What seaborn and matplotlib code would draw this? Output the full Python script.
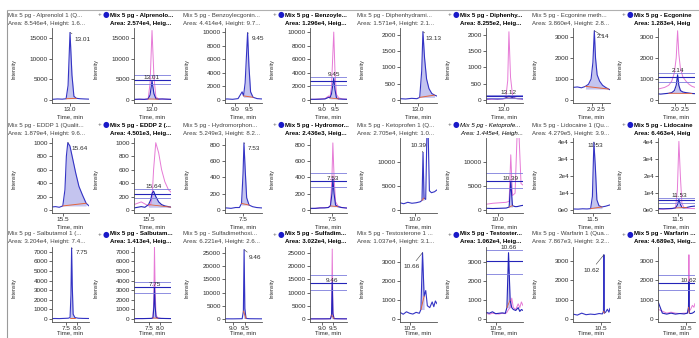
import matplotlib
matplotlib.use("Agg")
import matplotlib.pyplot as plt
from matplotlib.lines import Line2D
import seaborn as sns

sns.set_theme(style="ticks")
plt.rcParams['font.family'] = ['Liberation Sans', 'DejaVu Sans']

# ---- panel texts ----
qual_titles = ["Mix 5 pg - Alprenolol 1 (Q...", "Mix 5 pg - Benzoylecgonin...",
               "Mix 5 pg - Diphenhydrami...", "Mix 5 pg - Ecgonine meth...",
               "Mix 5 pg - EDDP 1 (Qualit...", "Mix 5 pg - Hydromorphon...",
               "Mix 5 pg - Ketoprofen 1 (Q...", "Mix 5 pg - Lidocaine 1 (Qu...",
               "Mix 5 pg - Salbutamol 1 (...", "Mix 5 pg - Sulfadimethoxi...",
               "Mix 5 pg - Testosterone 1 ...", "Mix 5 pg - Warfarin 1 (Qua..."]
qual_areas = ["Area: 8.546e4, Height: 1.6...", "Area: 4.414e4, Height: 9.7...",
              "Area: 1.571e4, Height: 2.1...", "Area: 3.860e4, Height: 2.8...",
              "Area: 1.879e4, Height: 9.6...", "Area: 5.249e3, Height: 8.2...",
              "Area: 2.705e4, Height: 1.0...", "Area: 4.279e5, Height: 3.9...",
              "Area: 3.204e4, Height: 7.4...", "Area: 6.221e4, Height: 2.6...",
              "Area: 1.037e4, Height: 3.1...", "Area: 7.867e3, Height: 3.2..."]
mix_titles = ["Mix 5 pg - Alprenolo...", "Mix 5 pg - Benzoyle...", "Mix 5 pg - Diphenhy...",
              "Mix 5 pg - Ecgonine", "Mix 5 pg - EDDP 2 (...", "Mix 5 pg - Hydromor...",
              "Mix 5 pg - Ketoprofe...", "Mix 5 pg - Lidocaine", "Mix 5 pg - Salbutam...",
              "Mix 5 pg - Sulfadim...", "Mix 5 pg - Testoster...", "Mix 5 pg - Warfarin ..."]
mix_areas = ["Area: 2.574e4, Heig...", "Area: 1.296e4, Heig...", "Area: 8.255e2, Heig...",
             "Area: 1.283e4, Heig", "Area: 4.501e3, Heig...", "Area: 2.436e3, Heig...",
             "Area: 1.445e4, Heigh...", "Area: 6.463e4, Heig", "Area: 1.413e4, Heig...",
             "Area: 3.022e4, Heig...", "Area: 1.062e4, Heig...", "Area: 4.689e3, Heig..."]
mix_italic = [False, False, False, False, False, False, True, False, False, False, False, False]

rt_values = [13.01, 9.45, 13.13, 2.14, 15.64, 7.53, 10.39, 11.53, 7.75, 9.46, 10.66, 10.62]
rt_labels = ["13.01", "9.45", "13.13", "2.14", "15.64", "7.53", "10.39", "11.53", "7.75", "9.46", "10.66", "10.62"]
mix_rt_labels = ["13.01", "9.45", "13.12", "2.14", "15.64", "7.53", "10.39", "11.53", "7.75", "9.46", "10.66", "10.62"]

# ---- chromatograms: time, qualifier trace, reference (pink), sample (blue) ----
alp_t = [12.64, 12.75, 12.85, 12.93, 12.97, 13.01, 13.05, 13.09, 13.14, 13.22, 13.30, 13.40]
alp_q = [150, 250, 200, 300, 3500, 16300, 6000, 900, 400, 300, 250, 200]
alp_ref = [100, 150, 150, 250, 4000, 16800, 5500, 700, 300, 200, 200, 150]
alp_mix = [150, 200, 150, 250, 1200, 4600, 1500, 300, 200, 250, 200, 150]

bzg_t = [8.50, 8.70, 8.90, 9.10, 9.25, 9.30, 9.36, 9.45, 9.50, 9.56, 9.65, 9.80, 9.98]
bzg_q = [100, 150, 100, 200, 1200, 600, 2500, 9900, 5000, 1200, 400, 200, 150]
bzg_ref = [100, 100, 150, 200, 600, 400, 2000, 10000, 4000, 800, 300, 150, 100]
bzg_mix = [100, 100, 120, 150, 400, 300, 900, 3200, 1500, 300, 150, 120, 100]

dph_t = [12.56, 12.70, 12.85, 12.98, 13.05, 13.10, 13.13, 13.17, 13.22, 13.28, 13.35, 13.42, 13.48]
dph_q = [40, 30, 50, 40, 80, 900, 2100, 1300, 650, 350, 200, 150, 120]
dph_ref = [20, 20, 30, 30, 40, 600, 2100, 700, 150, 60, 40, 30, 30]
dph_mix = [30, 40, 30, 40, 60, 100, 130, 100, 70, 50, 40, 40, 30]

ecg_t = [1.08, 1.30, 1.50, 1.70, 1.85, 1.98, 2.07, 2.14, 2.20, 2.28, 2.40, 2.55, 2.70, 2.85, 3.00]
ecg_q = [600, 620, 580, 650, 750, 1000, 1800, 3300, 2000, 1200, 900, 700, 600, 520, 450]
ecg_ref = [500, 550, 600, 700, 900, 1300, 2000, 3300, 2200, 1500, 1100, 900, 750, 650, 600]
ecg_mix = [300, 280, 300, 320, 350, 450, 700, 1200, 700, 450, 380, 350, 330, 310, 300]

edp_t = [15.10, 15.30, 15.40, 15.50, 15.56, 15.60, 15.64, 15.70, 15.78, 15.86, 15.95, 16.05, 16.15, 16.23]
edp_q = [40, 50, 40, 60, 300, 800, 1000, 950, 750, 550, 350, 220, 100, 60]
edp_ref = [80, 120, 90, 60, 80, 200, 600, 1000, 850, 600, 420, 300, 250, 200]
edp_mix = [30, 50, 40, 80, 150, 250, 280, 200, 120, 80, 60, 50, 40, 40]

hyd_t = [6.77, 6.95, 7.10, 7.25, 7.38, 7.45, 7.50, 7.53, 7.57, 7.62, 7.70, 7.82, 7.95, 8.13]
hyd_q = [20, 25, 20, 30, 30, 80, 450, 820, 500, 150, 60, 40, 30, 25]
hyd_ref = [15, 20, 25, 30, 30, 60, 400, 820, 400, 100, 50, 30, 25, 20]
hyd_mix = [20, 20, 25, 25, 30, 50, 200, 380, 200, 60, 40, 30, 25, 20]

ket_t = [9.27, 9.45, 9.65, 9.85, 10.05, 10.25, 10.34, 10.39, 10.44, 10.52, 10.58, 10.64, 10.70, 10.80, 10.95, 11.07]
ket_q = [1500, 1300, 1600, 1400, 1500, 1700, 2000, 12000, 2500, 2200, 16000, 16000, 4000, 3600, 3800, 4200]
ket_ref = [1200, 1300, 1200, 1400, 1500, 1600, 1800, 11500, 3000, 3500, 15500, 15500, 5500, 5000, 4800, 5000]
ket_mix = [300, 300, 350, 300, 350, 400, 600, 6000, 900, 700, 700, 800, 900, 1000, 1200, 1400]

lid_t = [10.83, 11.00, 11.15, 11.30, 11.42, 11.48, 11.53, 11.58, 11.63, 11.70, 11.80, 11.92, 12.07]
lid_q = [600, 500, 700, 600, 800, 8000, 40000, 25000, 6000, 2500, 1800, 2200, 3000]
lid_ref = [500, 500, 600, 700, 1500, 12000, 40500, 20000, 4000, 1500, 1000, 900, 800]
lid_mix = [800, 700, 800, 900, 1200, 3000, 6200, 3500, 1500, 1200, 1500, 2000, 2300]

sal_t = [6.82, 7.00, 7.20, 7.40, 7.60, 7.68, 7.72, 7.75, 7.78, 7.82, 7.90, 8.05, 8.25, 8.54]
sal_q = [40, 50, 40, 60, 80, 150, 2500, 7400, 3500, 500, 150, 80, 60, 50]
sal_ref = [30, 40, 40, 50, 60, 120, 2000, 7500, 3000, 400, 120, 60, 50, 40]
sal_mix = [30, 40, 40, 50, 60, 100, 1200, 3300, 1300, 200, 80, 60, 50, 40]

sul_t = [8.45, 8.70, 9.00, 9.20, 9.38, 9.43, 9.46, 9.49, 9.54, 9.70, 9.90, 10.20]
sul_q = [50, 60, 50, 80, 100, 3000, 26300, 4000, 200, 100, 80, 60]
sul_ref = [40, 50, 50, 60, 80, 2000, 26500, 3000, 150, 80, 60, 50]
sul_mix = [40, 50, 50, 60, 80, 1500, 14000, 2000, 120, 80, 60, 50]

tes_t = [10.38, 10.42, 10.46, 10.50, 10.54, 10.58, 10.62, 10.64, 10.66, 10.68, 10.70, 10.72, 10.75, 10.78, 10.80, 10.82, 10.84]
tes_q = [350, 250, 380, 300, 260, 350, 300, 500, 3500, 1200, 1500, 700, 600, 900, 650, 950, 800]
tes_ref = [300, 250, 300, 280, 260, 300, 280, 350, 500, 600, 1100, 600, 500, 800, 600, 900, 700]
tes_mix = [350, 300, 380, 280, 300, 320, 300, 600, 3500, 1000, 600, 500, 450, 600, 400, 500, 450]

war_t = [9.20, 9.40, 9.60, 9.80, 10.00, 10.20, 10.40, 10.55, 10.60, 10.62, 10.64, 10.70, 10.78, 10.85, 10.90]
war_q = [250, 200, 300, 220, 250, 230, 280, 260, 400, 3300, 300, 350, 500, 350, 550]
war_ref = [500, 400, 300, 350, 300, 280, 300, 300, 500, 3300, 400, 500, 700, 600, 800]
war_mix = [900, 300, 250, 300, 250, 280, 260, 300, 600, 1900, 300, 280, 300, 350, 400]

times = [alp_t, bzg_t, dph_t, ecg_t, edp_t, hyd_t, ket_t, lid_t, sal_t, sul_t, tes_t, war_t]
qual = [alp_q, bzg_q, dph_q, ecg_q, edp_q, hyd_q, ket_q, lid_q, sal_q, sul_q, tes_q, war_q]
ref = [alp_ref, bzg_ref, dph_ref, ecg_ref, edp_ref, hyd_ref, ket_ref, lid_ref, sal_ref, sul_ref, tes_ref, war_ref]
mix = [alp_mix, bzg_mix, dph_mix, ecg_mix, edp_mix, hyd_mix, ket_mix, lid_mix, sal_mix, sul_mix, tes_mix, war_mix]

# integration window (start, end) of each peak
peak_start = [12.93, 9.30, 13.05, 1.70, 15.50, 7.45, 10.34, 11.42, 7.68, 9.43, 10.64, 10.60]
peak_end = [13.14, 9.65, 13.42, 2.85, 16.15, 7.70, 10.44, 11.80, 7.90, 9.54, 10.68, 10.64]

# horizontal marker lines in sample panels (upper, peak, lower)
mix_levels = [[6000, 4900, 3900], [3400, 2800, 2200], [160, 110, 60], [1300, 1080, 870],
              [310, 240, 175], [450, 360, 280], [7700, 6100, 4650], [7000, 5600, 4200],
              [3900, 3300, 2700], [16500, 13800, 11000], [3650, 3050, 2400], [2250, 1870, 1470]]

# axes scales
y_top = [17400, 10600, 2215, 3430, 1070, 880, 15000, 42500, 7500, 27300, 3800, 3700]
y_ticks = [[0, 5000, 10000, 15000], [0, 2000, 4000, 6000, 8000, 10000], [0, 500, 1000, 1500, 2000],
           [0, 1000, 2000, 3000], [0, 200, 400, 600, 800, 1000], [0, 200, 400, 600, 800],
           [0, 5000, 10000], [0, 10000, 20000, 30000, 40000],
           [0, 1000, 2000, 3000, 4000, 5000, 6000, 7000], [0, 5000, 10000, 15000, 20000, 25000],
           [0, 1000, 2000, 3000], [0, 1000, 2000, 3000]]
x_ticks = [[13.0], [9.0, 9.5], [13.0], [2.0, 2.5], [15.5], [7.5], [10.0], [11.5],
           [7.5, 8.0], [9.0, 9.5], [10.5], [10.5]]
qual_xlim = [(12.64, 13.40), (8.62, 9.98), (12.56, 13.48), (1.08, 2.92), (15.20, 16.23), (6.90, 8.13),
             (9.27, 11.07), (10.83, 12.07), (6.86, 8.54), (8.67, 10.20), (10.38, 10.84), (9.20, 10.90)]
mix_xlim = [(12.64, 13.40), (8.50, 9.98), (12.56, 13.48), (1.17, 3.00), (15.10, 16.12), (6.77, 8.00),
            (9.64, 10.76), (10.83, 12.07), (6.82, 8.50), (8.45, 10.13), (10.38, 10.84), (9.20, 10.90)]

# peak label placement (points) in qualifier panels, and which line carries the sample label
label_offset = [(3, -5), (3, -4), (2, -5), (2, -4), (3, -4), (3, -4),
                (-3, 5), (1, -2), (3, -3), (3, -6), (-8, -10), (-9, -11)]
label_ha = ['left', 'left', 'left', 'left', 'left', 'left',
            'center', 'center', 'left', 'left', 'center', 'center']
label_on_top = [False, True, True, True, True, False, False, True, False, False, True, False]

LINE = '#3434c4'
FILL = '#c4c4ef'
RED = '#e2643c'
PINK = '#e67ad6'
BLUE = '#2424b8'
LIGHT = '#7c7cdc'
TXT = '#2a2a2a'

W, H = 699, 338
SPINE_X = [52, 134, 225, 310, 400, 486, 573, 658]
CELL_X = [8, 95, 183, 270, 357, 445, 532, 619]
ROW_Y = [0, 110, 219]
XLAB_Y = [-0.15, -0.15, -0.115]
AX_W, AX_TOP, AX_BOT = 37, 28, 103

fig = plt.figure(figsize=(W / 100, H / 100), dpi=100)


def style_axes(ax, k, xlim, row):
    ax.set_xlim(xlim)
    ax.set_ylim(-0.042 * y_top[k], y_top[k])
    ax.set_xticks(x_ticks[k])
    ax.set_xticklabels([f"{v:.1f}" for v in x_ticks[k]])
    ax.set_yticks(y_ticks[k])
    if k == 7:
        ax.set_yticklabels([f"{int(v / 10000)}e{4 if v else 0}" for v in y_ticks[k]])
    else:
        ax.set_yticklabels([str(v) for v in y_ticks[k]])
    sns.despine(ax=ax)
    for s in ['left', 'bottom']:
        ax.spines[s].set_linewidth(0.6)
        ax.spines[s].set_color('#505050')
    ax.tick_params(length=2, width=0.5, labelsize=4.6, pad=1, colors=TXT)
    ax.set_ylabel("Intensity", fontsize=3.8, color=TXT)
    ax.yaxis.set_label_coords(-0.95, 0.45)
    ax.set_xlabel("Time, min", fontsize=4.3, color=TXT)
    ax.xaxis.set_label_coords(0.5, XLAB_Y[row])
    ax.patch.set_alpha(0)


for k in range(12):
    row, pair = divmod(k, 4)
    yb = ROW_Y[row]
    t, q, r, m = times[k], qual[k], ref[k], mix[k]
    i0, i1 = t.index(peak_start[k]), t.index(peak_end[k])
    ipk = t.index(rt_values[k])

    # qualifier panel
    col = pair * 2
    ax = fig.add_axes([SPINE_X[col] / W, 1 - (yb + AX_BOT) / H, AX_W / W, (AX_BOT - AX_TOP) / H])
    base = min(q[i0], q[i1])
    ax.fill_between(t[i0:i1 + 1], q[i0:i1 + 1], base, color=FILL, lw=0)
    sns.lineplot(x=t, y=q, ax=ax, color=LINE, linewidth=0.8)
    ax.plot([t[i0], t[i1]], [q[i0], q[i1]], color=RED, lw=0.7)
    ax.annotate(rt_labels[k], xy=(rt_values[k], q[ipk]), xytext=label_offset[k],
                textcoords='offset points', fontsize=4.6, color=TXT, ha=label_ha[k], va='center',
                arrowprops=dict(arrowstyle='-', lw=0.4, color='#404040', shrinkA=0, shrinkB=0))
    style_axes(ax, k, qual_xlim[k], row)
    fig.text(CELL_X[col] / W, 1 - (yb + 15) / H, qual_titles[k], fontsize=4.4, va='center', color='#404040')
    fig.text(CELL_X[col] / W, 1 - (yb + 23) / H, qual_areas[k], fontsize=4.4, va='center', color='#404040')

    # sample panel
    col = pair * 2 + 1
    ax = fig.add_axes([SPINE_X[col] / W, 1 - (yb + AX_BOT) / H, AX_W / W, (AX_BOT - AX_TOP) / H])
    sns.lineplot(x=t, y=r, ax=ax, color=PINK, linewidth=0.7)
    base = min(m[i0], m[i1])
    ax.fill_between(t[i0:i1 + 1], m[i0:i1 + 1], base, color=FILL, lw=0)
    sns.lineplot(x=t, y=m, ax=ax, color=BLUE, linewidth=0.8)
    ax.plot([t[i0], t[i1]], [m[i0], m[i1]], color=RED, lw=0.6)
    lv = mix_levels[k]
    ax.axhline(lv[0], color=LIGHT, lw=0.6)
    ax.axhline(lv[1], color=BLUE, lw=0.8)
    ax.axhline(lv[2], color=LIGHT, lw=0.6)
    ax.text(rt_values[k], lv[0] if label_on_top[k] else lv[1], mix_rt_labels[k],
            ha='center', va='bottom', fontsize=4.6, color=TXT)
    style_axes(ax, k, mix_xlim[k], row)
    fx = CELL_X[col] / W
    fig.text(fx + 3 / W, 1 - (yb + 15) / H, "+", fontsize=4.4, va='center', color='#606060')
    fig.text(fx + 8 / W, 1 - (yb + 15) / H, "●", fontsize=5.5, va='center', color='#1a1ac8',
             family=['DejaVu Sans'])
    style = dict(fontstyle='italic') if mix_italic[k] else dict(fontweight='bold')
    fig.text(fx + 15 / W, 1 - (yb + 15) / H, mix_titles[k], fontsize=4.4, va='center', color='black', **style)
    fig.text(fx + 15 / W, 1 - (yb + 23) / H, mix_areas[k], fontsize=4.4, va='center', color='black', **style)

# pane borders
fig.add_artist(Line2D([7 / W, 7 / W], [0, 1 - 10 / H], color='#9a9a9a', lw=0.8))
fig.add_artist(Line2D([7 / W, 1], [1 - 10 / H, 1 - 10 / H], color='#b0b0b0', lw=0.8))

fig.savefig("out.png", dpi=100)
